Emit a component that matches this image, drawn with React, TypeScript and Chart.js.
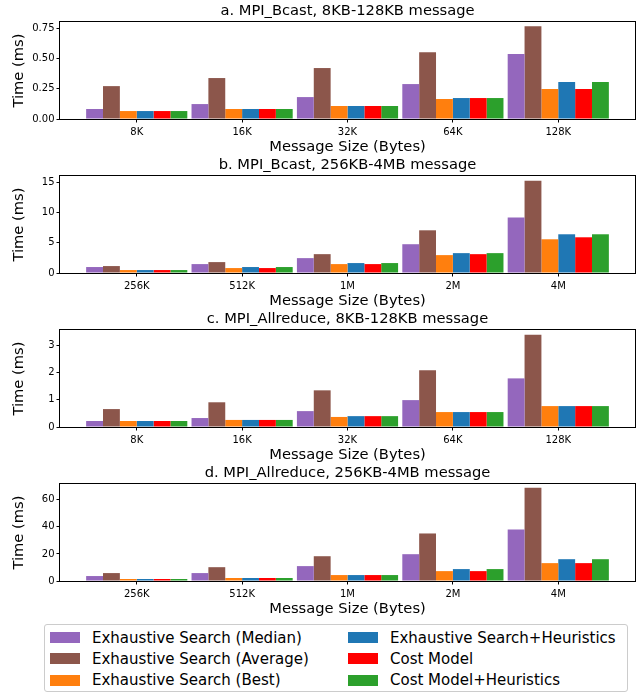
import React, { useEffect, useRef } from "react";
import { Chart, registerables } from "chart.js";

Chart.register(...registerables);

const seriesNames = [
  "Exhaustive Search (Median)",
  "Exhaustive Search (Average)",
  "Exhaustive Search (Best)",
  "Exhaustive Search+Heuristics",
  "Cost Model",
  "Cost Model+Heuristics",
];
const seriesColors = ["#9467bd", "#8c564b", "#ff7f0e", "#1f77b4", "#ff0000", "#2ca02c"];

const smallSizes = ["8K", "16K", "32K", "64K", "128K"];
const largeSizes = ["256K", "512K", "1M", "2M", "4M"];

// a. MPI_Bcast small
const bcastSmallMedian = [0.083, 0.124, 0.182, 0.29, 0.539];
const bcastSmallAverage = [0.273, 0.34, 0.423, 0.555, 0.771];
const bcastSmallBest = [0.066, 0.083, 0.108, 0.166, 0.249];
const bcastSmallESH = [0.066, 0.083, 0.108, 0.174, 0.307];
const bcastSmallCM = [0.066, 0.083, 0.108, 0.174, 0.249];
const bcastSmallCMH = [0.066, 0.083, 0.108, 0.174, 0.307];

// b. MPI_Bcast large
const bcastLargeMedian = [0.99, 1.48, 2.47, 4.78, 9.23];
const bcastLargeAverage = [1.15, 1.81, 3.13, 7.09, 15.33];
const bcastLargeBest = [0.49, 0.82, 1.48, 2.97, 5.6];
const bcastLargeESH = [0.49, 0.99, 1.65, 3.3, 6.43];
const bcastLargeCM = [0.49, 0.82, 1.48, 3.13, 5.93];
const bcastLargeCMH = [0.49, 0.99, 1.65, 3.3, 6.43];

// c. MPI_Allreduce small
const allredSmallMedian = [0.22, 0.33, 0.585, 0.99, 1.79];
const allredSmallAverage = [0.66, 0.91, 1.35, 2.085, 3.4];
const allredSmallBest = [0.22, 0.26, 0.37, 0.55, 0.77];
const allredSmallESH = [0.22, 0.26, 0.4, 0.55, 0.77];
const allredSmallCM = [0.22, 0.26, 0.4, 0.55, 0.77];
const allredSmallCMH = [0.22, 0.26, 0.4, 0.55, 0.77];

// d. MPI_Allreduce large
const allredLargeMedian = [3.66, 5.85, 11.0, 19.8, 38.0];
const allredLargeAverage = [5.85, 10.2, 18.3, 35.1, 68.8];
const allredLargeBest = [1.46, 2.2, 4.39, 7.3, 13.2];
const allredLargeESH = [1.46, 2.2, 4.39, 8.8, 16.1];
const allredLargeCM = [1.46, 2.2, 4.39, 7.3, 13.2];
const allredLargeCMH = [1.46, 2.2, 4.39, 8.8, 16.1];

const panelTitles = [
  "a. MPI_Bcast, 8KB-128KB message",
  "b. MPI_Bcast, 256KB-4MB message",
  "c. MPI_Allreduce, 8KB-128KB message",
  "d. MPI_Allreduce, 256KB-4MB message",
];
const panelLabels = [smallSizes, largeSizes, smallSizes, largeSizes];
const panelSeries = [
  [bcastSmallMedian, bcastSmallAverage, bcastSmallBest, bcastSmallESH, bcastSmallCM, bcastSmallCMH],
  [bcastLargeMedian, bcastLargeAverage, bcastLargeBest, bcastLargeESH, bcastLargeCM, bcastLargeCMH],
  [allredSmallMedian, allredSmallAverage, allredSmallBest, allredSmallESH, allredSmallCM, allredSmallCMH],
  [allredLargeMedian, allredLargeAverage, allredLargeBest, allredLargeESH, allredLargeCM, allredLargeCMH],
];
const yMaxes = [0.805, 16.1, 3.57, 71.6];
const ySteps = [0.25, 5, 1, 20];
const yDecimals = [2, 0, 0, 0];
const xMin = -0.728;
const xMax = 4.728;

const FONT = "'DejaVu Sans', sans-serif";

const spinePlugin = {
  id: "spines",
  afterDraw(chart: any) {
    const { ctx, chartArea } = chart;
    ctx.save();
    ctx.strokeStyle = "#000";
    ctx.lineWidth = 1;
    const l = Math.round(chartArea.left) - 0.5;
    const t = Math.round(chartArea.top) - 0.5;
    const r = Math.round(chartArea.right) + 0.5;
    const b = Math.round(chartArea.bottom) + 0.5;
    ctx.strokeRect(l, t, r - l, b - t);
    ctx.restore();
  },
};

function Panel({ idx }: { idx: number }) {
  const ref = useRef<HTMLCanvasElement>(null);
  useEffect(() => {
    const labels = panelLabels[idx];
    const series = panelSeries[idx];
    const chart = new Chart(ref.current!, {
      type: "bar",
      data: {
        datasets: series.map((vals, k) => ({
          label: seriesNames[k],
          data: vals.map((v, i) => ({ x: i, y: v })),
          backgroundColor: seriesColors[k],
          borderWidth: 0,
          categoryPercentage: 0.96,
          barPercentage: 1.0,
        })),
      },
      options: {
        responsive: false,
        animation: false,
        devicePixelRatio: 1,
        layout: { padding: { left: 0, right: 5, top: 0, bottom: 0 } },
        plugins: {
          legend: { display: false },
          tooltip: { enabled: false },
          title: {
            display: true,
            text: panelTitles[idx],
            fullSize: false,
            color: "#000",
            font: { family: FONT, size: 14.7, weight: "normal", lineHeight: 1.2 },
            padding: { top: 2.5, bottom: 1.9 },
          },
        },
        scales: {
          x: {
            type: "linear",
            min: xMin,
            max: xMax,
            offset: false,
            afterFit: (s: any) => {
              s.height = 35;
            },
            afterBuildTicks: (s: any) => {
              s.ticks = labels.map((_, i) => ({ value: i }));
            },
            ticks: {
              callback: (v: any) => labels[Math.round(Number(v))] ?? "",
              color: "#000",
              font: { family: FONT, size: 10 },
              padding: 3.5,
              maxRotation: 0,
              autoSkip: false,
            },
            grid: {
              display: true,
              drawOnChartArea: false,
              drawTicks: true,
              tickLength: 3.5,
              color: "#000",
              offset: false,
            },
            border: { display: false },
            title: {
              display: true,
              text: "Message Size (Bytes)",
              color: "#000",
              font: { family: FONT, size: 14.7, lineHeight: 1 },
              padding: { top: 0, bottom: -0.5 },
            },
          },
          y: {
            type: "linear",
            min: 0,
            max: yMaxes[idx],
            afterFit: (s: any) => {
              s.width = 60;
            },
            ticks: {
              stepSize: ySteps[idx],
              includeBounds: false,
              callback: (v: any) => Number(v).toFixed(yDecimals[idx]),
              color: "#000",
              font: { family: FONT, size: 10 },
              padding: 2,
            },
            grid: {
              display: true,
              drawOnChartArea: false,
              drawTicks: true,
              tickLength: 3.5,
              color: "#000",
            },
            border: { display: false },
            title: {
              display: true,
              text: "Time (ms)",
              color: "#000",
              font: { family: FONT, size: 14.7, lineHeight: 1 },
              padding: { top: 12, bottom: 0 },
            },
          },
        },
      },
      plugins: [spinePlugin],
    } as any);
    return () => chart.destroy();
  }, [idx]);
  return (
    <canvas
      ref={ref}
      width={640}
      height={154}
      style={{ position: "absolute", left: 0, top: idx * 154, width: 640, height: 154 }}
    />
  );
}

function Legend() {
  const order = [0, 3, 1, 4, 2, 5];
  return (
    <div
      style={{
        position: "absolute",
        left: 44,
        top: 624,
        width: 584,
        height: 68,
        border: "1px solid #cccccc",
        borderRadius: 3,
        boxSizing: "border-box",
        fontFamily: FONT,
        fontSize: 15,
        color: "#000",
      }}
    >
      {order.map((k, j) => {
        const col = j % 2;
        const row = Math.floor(j / 2);
        return (
          <div
            key={k}
            style={{
              position: "absolute",
              left: col === 0 ? 5 : 303,
              top: 12.5 + row * 21.4 - 10,
              height: 20,
              display: "flex",
              alignItems: "center",
              whiteSpace: "nowrap",
            }}
          >
            <span
              style={{
                display: "inline-block",
                width: 30,
                height: 11,
                background: seriesColors[k],
                marginRight: 12,
              }}
            />
            <span style={{ lineHeight: "20px" }}>{seriesNames[k]}</span>
          </div>
        );
      })}
    </div>
  );
}

export default function App() {
  return (
    <div style={{ position: "absolute", left: 0, top: 0, width: 640, height: 694, background: "#fff" }}>
      {[0, 1, 2, 3].map((i) => (
        <Panel key={i} idx={i} />
      ))}
      <Legend />
    </div>
  );
}
